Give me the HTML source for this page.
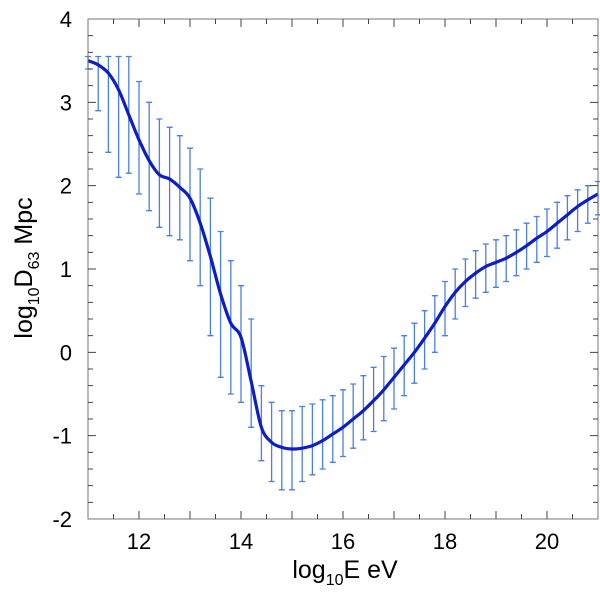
<!DOCTYPE html>
<html><head><meta charset="utf-8"><style>
body{margin:0;background:#fff}
svg{display:block;font-family:"Liberation Sans",Arial,sans-serif}
</style></head><body>
<svg id="chart" width="600" height="593">
<g id="errs"></g>
<path id="curve" fill="none" stroke="#0c1ec4" stroke-width="3.2" stroke-linejoin="round"/>
<rect x="88" y="19" width="510" height="500" fill="none" stroke="#777" stroke-width="1"/>
<g id="ticks"></g>
<text x="345" y="578" font-size="25" text-anchor="middle">log<tspan font-size="16" dy="7">10</tspan><tspan dy="-7">E eV</tspan></text>
<text transform="translate(32,268) rotate(-90)" font-size="25" text-anchor="middle">log<tspan font-size="16" dy="7">10</tspan><tspan dy="-7">D</tspan><tspan font-size="16" dy="7">63</tspan><tspan dy="-7"> Mpc</tspan></text>
</svg>
<script>
const xs=[11.0,11.2,11.4,11.6,11.8,12.0,12.2,12.4,12.6,12.8,13.0,13.2,13.4,13.6,13.8,14.0,14.2,14.4,14.6,14.8,15.0,15.2,15.4,15.6,15.8,16.0,16.2,16.4,16.6,16.8,17.0,17.2,17.4,17.6,17.8,18.0,18.2,18.4,18.6,18.8,19.0,19.2,19.4,19.6,19.8,20.0,20.2,20.4,20.6,20.8,21.0];
const ys=[3.50,3.45,3.35,3.15,2.85,2.55,2.30,2.13,2.08,1.98,1.85,1.55,1.15,0.70,0.35,0.18,-0.35,-0.90,-1.08,-1.14,-1.16,-1.15,-1.12,-1.06,-0.98,-0.90,-0.80,-0.70,-0.58,-0.45,-0.30,-0.15,0.00,0.17,0.35,0.55,0.72,0.85,0.95,1.03,1.08,1.13,1.20,1.28,1.37,1.45,1.55,1.65,1.75,1.83,1.90];
const upper=[3.55,3.55,3.55,3.55,3.55,3.25,3.0,2.8,2.7,2.6,2.45,2.2,1.85,1.45,1.1,0.8,0.4,-0.4,-0.6,-0.7,-0.7,-0.65,-0.62,-0.57,-0.52,-0.45,-0.38,-0.28,-0.18,-0.05,0.05,0.2,0.35,0.5,0.68,0.85,1.0,1.12,1.22,1.3,1.35,1.4,1.47,1.55,1.63,1.72,1.8,1.88,1.95,2.0,2.05];
const lower=[3.4,2.9,2.4,2.1,2.15,1.9,1.7,1.5,1.4,1.35,1.1,0.8,0.2,-0.3,-0.5,-0.6,-0.9,-1.3,-1.55,-1.65,-1.65,-1.55,-1.47,-1.4,-1.32,-1.25,-1.15,-1.05,-0.95,-0.82,-0.68,-0.52,-0.37,-0.2,0.0,0.2,0.4,0.55,0.65,0.72,0.78,0.85,0.92,1.0,1.08,1.15,1.25,1.35,1.45,1.55,1.65];
const xTicks=[12,14,16,18,20];
const yTicks=[-2,-1,0,1,2,3,4];
const X0=88,X1=598,Y0=519,Y1=19;
const sx=v=>X0+(v-11)/(21-11)*(X1-X0);
const sy=v=>Y0-(v+2)/(4+2)*(Y0-Y1);
const NS='http://www.w3.org/2000/svg';
function mk(t,a,p){const e=document.createElementNS(NS,t);for(const k in a)e.setAttribute(k,a[k]);p.appendChild(e);return e;}
const eg=document.getElementById('errs');
xs.forEach((x,i)=>{
 const px=sx(x);
 const ln=mk('path',{d:`M${px},${sy(upper[i])}V${sy(lower[i])}M${px-3},${sy(upper[i])}h6M${px-3},${sy(lower[i])}h6`,stroke:'#4b7fe0','stroke-width':1.3,fill:'none'},eg);
 
 
});
const P=xs.map((x,i)=>[sx(x),sy(ys[i])]);
let d='M'+P[0][0]+','+P[0][1];
for(let i=0;i<P.length-1;i++){
 const p0=P[Math.max(i-1,0)],p1=P[i],p2=P[i+1],p3=P[Math.min(i+2,P.length-1)];
 const c1=[p1[0]+(p2[0]-p0[0])/6,p1[1]+(p2[1]-p0[1])/6];
 const c2=[p2[0]-(p3[0]-p1[0])/6,p2[1]-(p3[1]-p1[1])/6];
 d+=`C${c1[0]},${c1[1]} ${c2[0]},${c2[1]} ${p2[0]},${p2[1]}`;
}
document.getElementById('curve').setAttribute('d',d);
const tg=document.getElementById('ticks');
for(let v=11.5;v<21;v+=0.5){const big=Number.isInteger(v);const l=big?8:5;
 mk('path',{d:`M${sx(v)},${Y0}v${-l}M${sx(v)},${Y1}v${l}`,stroke:'#444','stroke-width':1},tg);}
for(let k=1;k<30;k++){const v=-2+k*0.2;const big=k%5===0;const l=big?8:5;
 mk('path',{d:`M${X0},${sy(v)}h${l}M${X1},${sy(v)}h${-l}`,stroke:'#444','stroke-width':1},tg);}
xTicks.forEach(v=>{const t=mk('text',{x:sx(v),y:549,'font-size':22,'text-anchor':'middle'},tg);t.textContent=v;
 
 });
yTicks.forEach(v=>{const t=mk('text',{x:72,y:sy(v)+8,'font-size':22,'text-anchor':'end'},tg);t.textContent=v;
 
 });
</script>
</body></html>
